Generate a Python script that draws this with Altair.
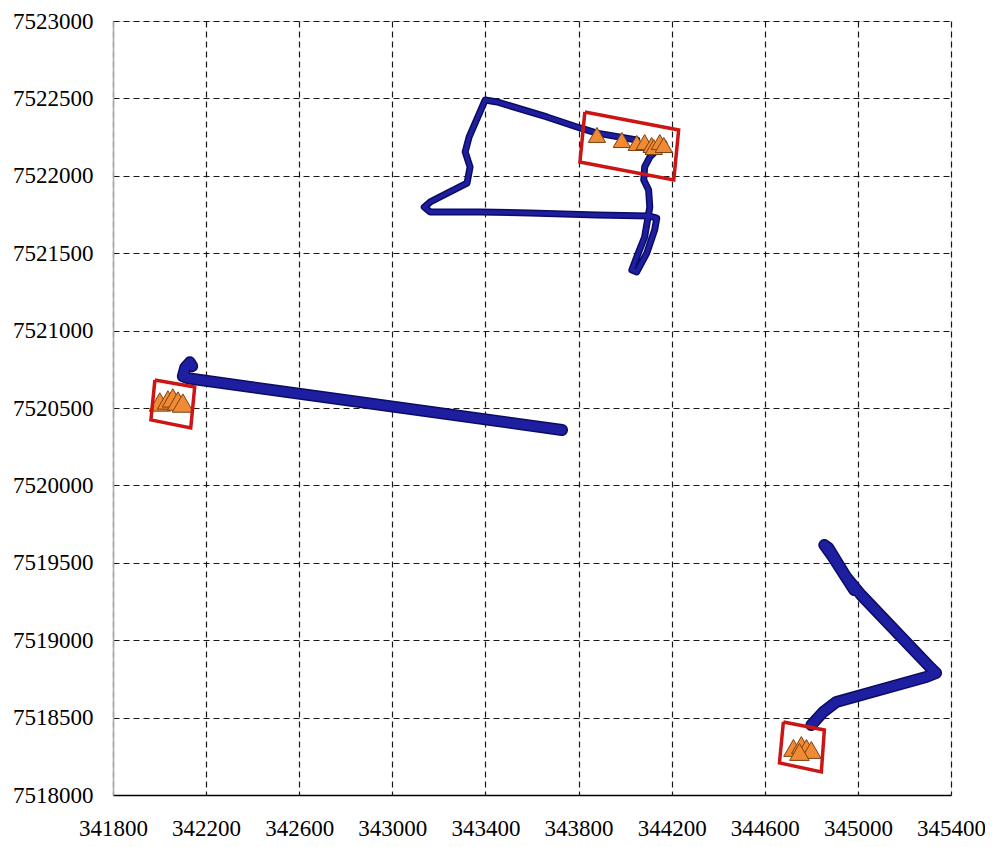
import altair as alt
import pandas as pd

x_ticks = [341800, 342200, 342600, 343000, 343400, 343800, 344200, 344600, 345000, 345400]
y_ticks = [7518000, 7518500, 7519000, 7519500, 7520000, 7520500, 7521000, 7521500, 7522000, 7522500, 7523000]

# Track A (top)
track_a_x = [344050, 343879, 343806, 343664, 343450, 343399, 343330, 343313, 343334, 343321,
             343163, 343137, 343163, 343377, 343591, 343879, 344106, 344136, 344127, 344093,
             344050, 344029, 344050, 344084, 344106, 344101, 344080, 344084, 344106, 344166]
track_a_y = [7522231, 7522276, 7522309, 7522380, 7522477, 7522490, 7522251, 7522154, 7522057, 7521953,
             7521831, 7521798, 7521766, 7521766, 7521760, 7521747, 7521740, 7521727, 7521650, 7521501,
             7521379, 7521391, 7521475, 7521605, 7521798, 7521908, 7521973, 7522057, 7522121, 7522212]
# Track B (middle)
track_b_x = [343729, 342121, 342100, 342110, 342130, 342140]
track_b_y = [7520358, 7520692, 7520705, 7520760, 7520795, 7520770]
# Track C (bottom right)
track_c_x = [344800, 344851, 344907, 345293, 345336, 345314, 345014, 344950, 344873, 344856, 344890, 344984]
track_c_y = [7518452, 7518536, 7518601, 7518762, 7518788, 7518820, 7519292, 7519408, 7519596, 7519615, 7519544, 7519324]

# Triangle detections
tri_a_x = [343879, 343986, 344050, 344084, 344114, 344123, 344149, 344166]
tri_a_y = [7522264, 7522231, 7522212, 7522218, 7522199, 7522186, 7522218, 7522199]
tri_b_x = [342001, 342036, 342057, 342079, 342100]
tri_b_y = [7520539, 7520552, 7520565, 7520545, 7520532]
tri_c_x = [344723, 344757, 344779, 344800, 344749]
tri_c_y = [7518304, 7518323, 7518304, 7518291, 7518278]

# Red boxes (rotated rectangles)
box_a_x = [343827, 344230, 344209, 343806]
box_a_y = [7522412, 7522296, 7521973, 7522089]
box_b_x = [341980, 342151, 342134, 341963]
box_b_y = [7520681, 7520636, 7520371, 7520423]
box_c_x = [344680, 344856, 344843, 344663]
box_c_y = [7518472, 7518420, 7518149, 7518207]

tracks = []
for name, xs, ys, w in [("A", track_a_x, track_a_y, 7), ("B", track_b_x, track_b_y, 12), ("C", track_c_x, track_c_y, 12)]:
    for i, (x, y) in enumerate(zip(xs, ys)):
        tracks.append({"track": name, "i": i, "x": x, "y": y, "w": w, "w2": w - 3})
tracks = pd.DataFrame(tracks)

tris = []
for name, xs, ys, s in [("A", tri_a_x, tri_a_y, 300), ("B", tri_b_x, tri_b_y, 450), ("C", tri_c_x, tri_c_y, 380)]:
    for x, y in zip(xs, ys):
        tris.append({"grp": name, "x": x, "y": y, "s": s})
tris = pd.DataFrame(tris)

boxes = []
for name, xs, ys in [("A", box_a_x, box_a_y), ("B", box_b_x, box_b_y), ("C", box_c_x, box_c_y)]:
    pts = list(zip(xs, ys)) + [(xs[0], ys[0])]
    for i, (x, y) in enumerate(pts):
        boxes.append({"box": name, "i": i, "x": x, "y": y})
boxes = pd.DataFrame(boxes)

font = "Liberation Serif"
xs = alt.Scale(domain=[341800, 345400], nice=False, zero=False)
ys = alt.Scale(domain=[7518000, 7523000], nice=False, zero=False)
xaxis = alt.Axis(values=x_ticks, format="d", title=None, grid=True, gridColor="black",
                 gridDash=[6, 4], gridWidth=1.2, gridOpacity=0.9, ticks=False, domainColor="black",
                 domainWidth=1.5, labelFont=font, labelFontSize=23, labelColor="black",
                 labelPadding=22, labelFlush=False)
yaxis = alt.Axis(values=y_ticks, format="d", title=None, grid=True, gridColor="black",
                 gridDash=[6, 4], gridWidth=1.2, gridOpacity=0.9, ticks=False, domainColor="#aaaaaa",
                 domainWidth=1.5, labelFont=font, labelFontSize=23, labelColor="black",
                 labelPadding=20, labelFlush=False)

base_x = alt.X("x:Q", scale=xs, axis=xaxis)
base_y = alt.Y("y:Q", scale=ys, axis=yaxis)

outer = alt.Chart(tracks).mark_line(color="#0c0c62", strokeCap="round", strokeJoin="round").encode(
    x=base_x, y=base_y, detail="track:N", order="i:Q",
    strokeWidth=alt.StrokeWidth("w:Q", scale=None, legend=None))
inner = alt.Chart(tracks).mark_line(color="#1e1ea0", strokeCap="round", strokeJoin="round").encode(
    x="x:Q", y="y:Q", detail="track:N", order="i:Q",
    strokeWidth=alt.StrokeWidth("w2:Q", scale=None, legend=None))

tri = alt.Chart(tris).mark_point(shape="triangle-up", filled=True, fill="#f08a35",
                                  stroke="#7a4212", strokeWidth=1, opacity=1).encode(
    x="x:Q", y="y:Q", size=alt.Size("s:Q", scale=None, legend=None))

box = alt.Chart(boxes).mark_line(color="#cc1515", strokeWidth=3.5, strokeJoin="miter").encode(
    x="x:Q", y="y:Q", detail="box:N", order="i:Q")

chart = alt.layer(outer, inner, tri, box).properties(
    width=838, height=774,
    autosize=alt.AutoSizeParams(type="none"),
    padding={"left": 105, "top": 13, "right": 34, "bottom": 52},
).configure_view(strokeWidth=0).configure(background="white")

chart.save("out.html", embed_options={"renderer": "svg", "actions": False})
